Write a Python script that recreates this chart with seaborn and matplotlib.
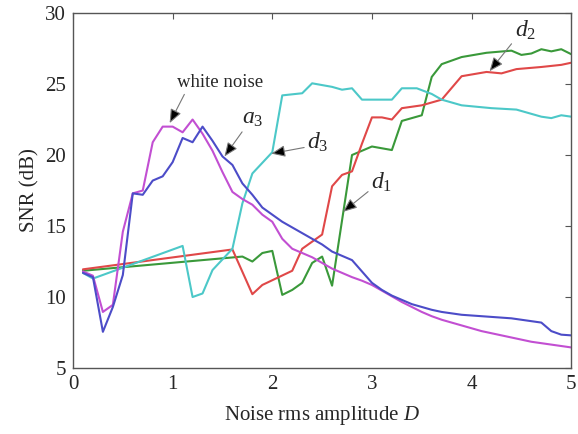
import numpy as np
import pandas as pd
import matplotlib
matplotlib.use("Agg")
import matplotlib.pyplot as plt
import seaborn as sns

# Noise rms amplitude D and output SNR (dB) for each signal component
d_white = [0.1, 0.2, 0.3, 0.4, 0.5, 0.6, 0.7, 0.8, 0.9, 1.0, 1.1, 1.2, 1.3, 1.4, 1.5,
           1.6, 1.7, 1.8, 1.9, 2.0, 2.1, 2.2, 2.3, 2.4, 2.5, 2.6, 2.7, 2.8, 2.9, 3.0,
           3.1, 3.2, 3.3, 3.4, 3.5, 3.6, 3.7, 3.8, 3.9, 4.0, 4.1, 4.2, 4.3, 4.4, 4.5,
           4.6, 4.7, 4.8, 4.9, 5.0]
snr_white = [11.8, 11.5, 8.95, 9.45, 14.6, 17.3, 17.5, 20.9, 22.0, 22.0, 21.6, 22.5, 21.5, 20.3, 18.8,
             17.4, 16.9, 16.5, 15.8, 15.3, 14.1, 13.4, 13.1, 12.8, 12.4, 12.0, 11.7, 11.4, 11.15, 10.85,
             10.45, 10.05, 9.65, 9.3, 8.95, 8.65, 8.4, 8.2, 8.0, 7.8, 7.6, 7.45, 7.3, 7.15, 7.0,
             6.85, 6.75, 6.65, 6.55, 6.45]

d_a3 = d_white
snr_a3 = [11.7, 11.4, 7.55, 9.3, 11.55, 17.3, 17.2, 18.2, 18.5, 19.5, 21.2, 20.9, 22.0, 21.0, 19.9,
          19.3, 18.0, 17.2, 16.3, 15.8, 15.3, 14.9, 14.5, 14.1, 13.7, 13.2, 12.9, 12.6, 11.8, 11.0,
          10.5, 10.1, 9.8, 9.5, 9.3, 9.1, 8.95, 8.85, 8.75, 8.7, 8.65, 8.6, 8.55, 8.5, 8.4,
          8.3, 8.2, 7.6, 7.35, 7.3]

d_d3 = [0.1, 0.2, 1.1, 1.2, 1.3, 1.4, 1.6, 1.7, 1.8, 2.0, 2.1, 2.3, 2.4, 2.6, 2.7, 2.8,
        2.9, 3.2, 3.3, 3.45, 3.6, 3.7, 3.8, 3.9, 4.2, 4.45, 4.7, 4.8, 4.9, 5.0]
snr_d3 = [11.7, 11.3, 13.6, 10.0, 10.25, 11.9, 13.4, 16.6, 18.7, 20.2, 24.2, 24.35, 25.05, 24.8, 24.6, 24.7,
          23.9, 23.9, 24.7, 24.7, 24.3, 23.9, 23.7, 23.5, 23.3, 23.2, 22.7, 22.6, 22.8, 22.7]

d_d2 = [0.1, 1.6, 1.8, 1.9, 2.2, 2.3, 2.5, 2.6, 2.7, 2.8, 2.9, 3.0, 3.1, 3.2, 3.3, 3.5,
        3.7, 3.9, 4.15, 4.3, 4.45, 4.7, 4.9, 5.0]
snr_d2 = [11.95, 13.35, 10.2, 10.85, 11.85, 13.4, 14.4, 17.8, 18.6, 18.85, 20.8, 22.65, 22.65, 22.5, 23.3, 23.5,
          23.9, 25.55, 25.85, 25.75, 26.05, 26.2, 26.35, 26.5]

d_d1 = [0.1, 1.7, 1.8, 1.9, 2.0, 2.1, 2.2, 2.3, 2.4, 2.5, 2.6, 2.8, 3.0, 3.2, 3.3, 3.5,
        3.6, 3.7, 3.9, 4.15, 4.4, 4.5, 4.6, 4.7, 4.8, 4.9, 5.0]
snr_d1 = [11.85, 12.85, 12.5, 13.1, 13.25, 10.15, 10.5, 11.0, 12.4, 12.85, 10.8, 20.0, 20.6, 20.35, 22.4, 22.8,
          25.5, 26.4, 26.9, 27.2, 27.35, 27.05, 27.15, 27.45, 27.3, 27.45, 27.1]

series = [
    ("d1", d_d1, snr_d1, "#3a993a"),
    ("d2", d_d2, snr_d2, "#e04848"),
    ("d3", d_d3, snr_d3, "#4cc8c8"),
    ("white noise", d_white, snr_white, "#c24fd2"),
    ("a3", d_a3, snr_a3, "#4c4cc8"),
]

sns.set_style("white")
plt.rcParams["font.family"] = ["Liberation Serif", "DejaVu Serif"]
plt.rcParams["mathtext.fontset"] = "custom"
plt.rcParams["mathtext.it"] = "Liberation Serif:italic"
plt.rcParams["mathtext.rm"] = "Liberation Serif"

fig = plt.figure(figsize=(5.78, 4.34), dpi=100)
ax = fig.add_axes([0.1263, 0.152, 0.862, 0.818])

for name, d, s, c in series:
    df = pd.DataFrame({"D": d, "SNR": s})
    sns.lineplot(data=df, x="D", y="SNR", ax=ax, color=c, lw=1.5,
                 sort=False, estimator=None, legend=False)

ax.set_xlim(0, 5)
ax.set_ylim(5, 30)
ax.set_xticks([0, 1, 2, 3, 4, 5])
ax.set_yticks([5, 10, 15, 20, 25, 30])
ax.tick_params(direction="in", length=4, width=0.8, color="#555555",
               top=True, right=True, labelsize=15, pad=5)
for sp in ax.spines.values():
    sp.set_color("#555555")
    sp.set_linewidth(1.0)

ax.set_xlabel("Noise rms amplitude $D$", fontsize=15, labelpad=7)
ax.set_ylabel("SNR (dB)", fontsize=15, labelpad=4)

arrow = dict(arrowstyle="-|>,head_length=0.6,head_width=0.25", mutation_scale=14,
             ec="#777777", fc="black", lw=0.8, shrinkA=0, shrinkB=0)

ax.annotate("white noise", xy=(0.97, 22.25), xytext=(1.48, 25.1), fontsize=13.5,
            ha="center", va="center", arrowprops=dict(arrow, relpos=(0.1, 0.0)))
ax.annotate("$a_3$", xy=(1.52, 19.9), xytext=(1.8, 22.6), fontsize=17,
            ha="center", va="center", arrowprops=dict(arrow, relpos=(0.2, 0.1)))
ax.annotate("$d_3$", xy=(1.99, 20.1), xytext=(2.46, 20.9), fontsize=17,
            ha="center", va="center", arrowprops=dict(arrow, relpos=(0.0, 0.3)))
ax.annotate("$d_1$", xy=(2.71, 16.0), xytext=(3.1, 18.1), fontsize=17,
            ha="center", va="center", arrowprops=dict(arrow, relpos=(0.0, 0.2)))
ax.annotate("$d_2$", xy=(4.18, 25.9), xytext=(4.54, 28.8), fontsize=17,
            ha="center", va="center", arrowprops=dict(arrow, relpos=(0.1, 0.2)))

fig.savefig("out.png", dpi=100)
